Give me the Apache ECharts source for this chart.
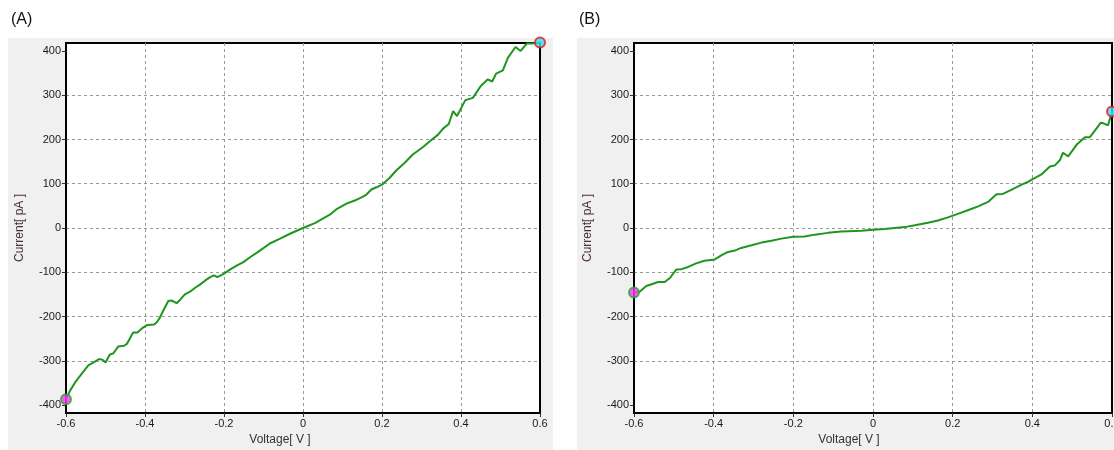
<!DOCTYPE html>
<html>
<head>
<meta charset="utf-8">
<script src="https://cdn.jsdelivr.net/npm/echarts@6/dist/echarts.min.js"></script>
<style>
  html, body { margin: 0; padding: 0; background: #fff; }
  #chart { width: 1114px; height: 450px; }
</style>
</head>
<body>
<div id="chart"></div>
<script>
// panel A: I-V sweep, voltage [V] / current [pA]
const voltsA = [-0.600, -0.590, -0.577, -0.560, -0.543, -0.531, -0.516, -0.507, -0.500, -0.489,
  -0.480, -0.468, -0.453, -0.446, -0.430, -0.419, -0.408, -0.394, -0.377, -0.370,
  -0.362, -0.354, -0.341, -0.332, -0.320, -0.311, -0.299, -0.286, -0.273, -0.261,
  -0.248, -0.235, -0.225, -0.217, -0.206, -0.200, -0.185, -0.168, -0.151, -0.134,
  -0.109, -0.084, -0.058, -0.033, 0.000, 0.030, 0.068, 0.084, 0.110, 0.131,
  0.148, 0.160, 0.173, 0.186, 0.200, 0.219, 0.236, 0.257, 0.278, 0.304,
  0.321, 0.342, 0.354, 0.369, 0.380, 0.390, 0.401, 0.411, 0.430, 0.450,
  0.468, 0.479, 0.489, 0.506, 0.519, 0.538, 0.551, 0.567, 0.580, 0.600];
const currentA = [-387, -368, -349, -329, -310, -304, -296, -298, -304, -286,
  -283, -268, -266, -262, -236, -236, -227, -219, -218, -213,
  -202, -187, -165, -164, -170, -162, -150, -144, -135, -128,
  -119, -111, -107, -111, -106, -103, -94, -85, -77, -66,
  -51, -35, -24, -13, 0, 11, 30, 42, 55, 62,
  69, 75, 87, 92, 98, 113, 130, 147, 166, 183,
  196, 211, 224, 235, 264, 253, 272, 289, 294, 321,
  336, 331, 349, 356, 385, 409, 400, 417, 417, 419];

// panel B
const voltsB = [-0.600, -0.586, -0.569, -0.552, -0.540, -0.523, -0.510, -0.494, -0.481, -0.464,
  -0.444, -0.423, -0.397, -0.381, -0.364, -0.347, -0.331, -0.305, -0.280, -0.255,
  -0.230, -0.200, -0.172, -0.146, -0.113, -0.080, -0.029, 0.000, 0.029, 0.054,
  0.080, 0.105, 0.138, 0.163, 0.188, 0.213, 0.238, 0.264, 0.289, 0.310,
  0.326, 0.347, 0.373, 0.389, 0.402, 0.423, 0.444, 0.456, 0.469, 0.477,
  0.490, 0.511, 0.532, 0.544, 0.557, 0.572, 0.580, 0.590, 0.595, 0.600];
const currentB = [-146, -144, -131, -126, -122, -122, -113, -94, -93, -88,
  -80, -74, -71, -62, -54, -51, -45, -39, -33, -29,
  -24, -20, -19, -15, -11, -8, -6, -4, -2, 0,
  2, 6, 12, 17, 24, 32, 40, 49, 59, 76,
  77, 86, 98, 104, 111, 121, 139, 141, 153, 170,
  162, 188, 205, 205, 220, 238, 236, 232, 230, 263];

const yTicks = [-400, -300, -200, -100, 0, 100, 200, 300, 400];

const chart = echarts.init(document.getElementById('chart'));

const font = 'Liberation Sans';
const lineGreen = '#1e961e';
const gridLine = { show: true, showMinLine: false, showMaxLine: false,
  lineStyle: { color: '#999', type: [3, 3], width: 1 } };

const makeGrid = (left, width) => ({
  left: left, top: 43, width: width, height: 370,
  outerBoundsMode: 'none', containLabel: false,
  show: true, backgroundColor: '#fff', borderColor: '#000', borderWidth: 2
});

const makeX = (idx) => ({
  type: 'value', gridIndex: idx, min: -0.6, max: 0.6, interval: 0.2,
  axisLine: { show: true, onZero: false, lineStyle: { color: '#000', width: 2 } },
  axisTick: { show: true, length: 4, lineStyle: { color: '#333' } },
  axisLabel: {
    margin: 5, color: '#1a1a1a', fontFamily: font, fontSize: 11,
    formatter: (v) => String(Math.round(v * 10) / 10)
  },
  splitLine: gridLine
});

const makeY = (idx) => ({
  type: 'value', gridIndex: idx, min: -418, max: 418,
  name: 'Current[ pA ]', nameLocation: 'middle', nameGap: 40,
  nameTextStyle: { color: '#4a2e2e', fontFamily: font, fontSize: 12 },
  axisLine: { show: true, onZero: false, lineStyle: { color: '#000', width: 2 } },
  axisTick: { show: true, length: 4, customValues: yTicks, lineStyle: { color: '#333' } },
  axisLabel: { margin: 5, color: '#1a1a1a', fontFamily: font, fontSize: 11, customValues: yTicks },
  splitLine: gridLine
});

const pairs = (xs, ys) => xs.map((x, i) => [x, ys[i]]);

const cursor = (xi, x, y, fill, ring) => ({
  type: 'scatter', xAxisIndex: xi, yAxisIndex: xi, symbolSize: 10, clip: false, z: 5,
  data: [[x, y]],
  itemStyle: { color: fill, borderColor: ring, borderWidth: 2 }
});

const option = {
  animation: false,
  backgroundColor: '#fff',
  graphic: [
    { type: 'rect', z: -10, shape: { x: 8, y: 38, width: 545, height: 412 }, style: { fill: '#f0f0f0' } },
    { type: 'rect', z: -10, shape: { x: 577, y: 38, width: 548, height: 412 }, style: { fill: '#f0f0f0' } },
    { type: 'text', x: 11, y: 20, style: { text: '(A)', font: '16px "Liberation Sans"', fill: '#111', verticalAlign: 'middle' } },
    { type: 'text', x: 579, y: 20, style: { text: '(B)', font: '16px "Liberation Sans"', fill: '#111', verticalAlign: 'middle' } },
    { type: 'text', x: 280, y: 440, style: { text: 'Voltage[ V ]', font: '12px "Liberation Sans"', fill: '#333', align: 'center', verticalAlign: 'middle' } },
    { type: 'text', x: 849, y: 440, style: { text: 'Voltage[ V ]', font: '12px "Liberation Sans"', fill: '#333', align: 'center', verticalAlign: 'middle' } }
  ],
  grid: [makeGrid(66, 474), makeGrid(634, 478)],
  xAxis: [makeX(0), makeX(1)],
  yAxis: [makeY(0), makeY(1)],
  series: [
    {
      type: 'line', xAxisIndex: 0, yAxisIndex: 0, data: pairs(voltsA, currentA),
      showSymbol: false, clip: false, lineStyle: { color: lineGreen, width: 2 }
    },
    {
      type: 'line', xAxisIndex: 1, yAxisIndex: 1, data: pairs(voltsB, currentB),
      showSymbol: false, clip: false, lineStyle: { color: lineGreen, width: 2 }
    },
    // sweep start / end cursors
    cursor(0, voltsA[0], currentA[0], '#ff33ff', '#22aa22'),
    cursor(0, voltsA[voltsA.length - 1], currentA[currentA.length - 1], '#33e0ff', '#ee1111'),
    cursor(1, voltsB[0], currentB[0], '#ff33ff', '#22aa22'),
    cursor(1, voltsB[voltsB.length - 1], currentB[currentB.length - 1], '#33e0ff', '#ee1111')
  ]
};

chart.setOption(option);
</script>
</body>
</html>
